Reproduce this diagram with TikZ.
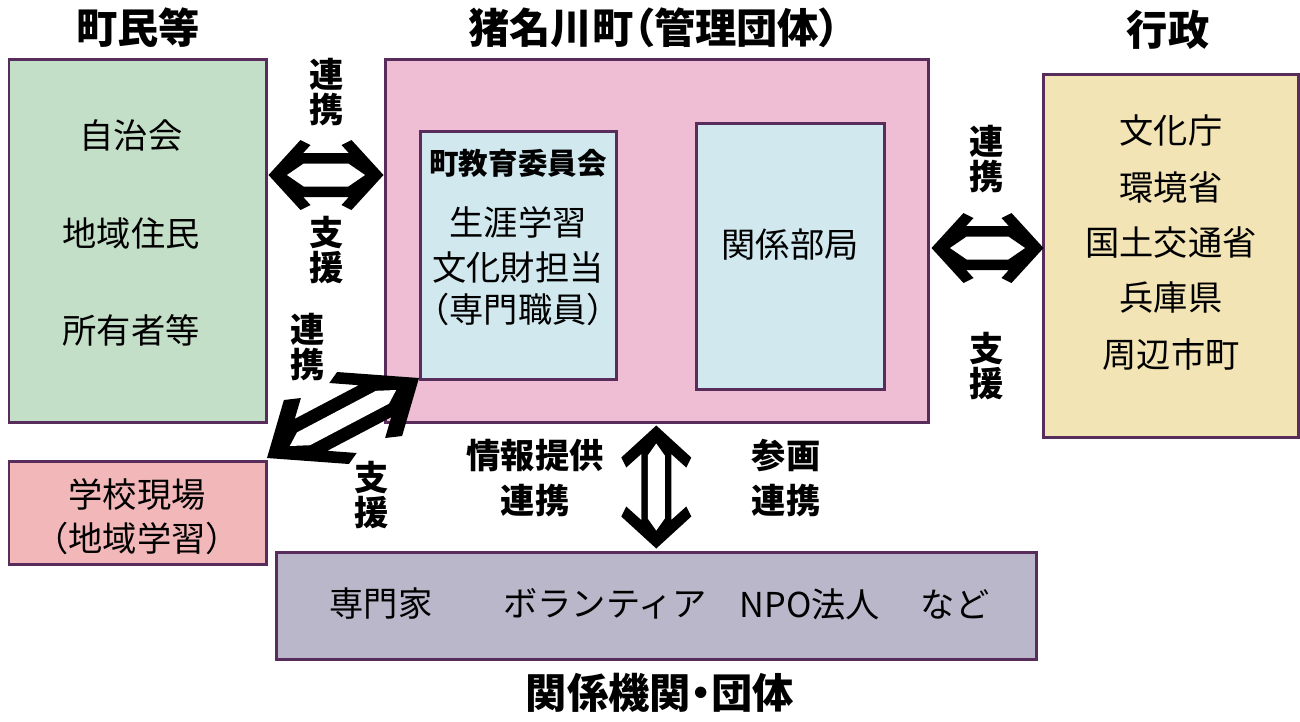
\documentclass[tikz,border=0pt]{standalone}
\usepackage{fontspec}
\setmainfont{Noto Sans CJK JP}
\usetikzlibrary{fit,calc}
\definecolor{bordc}{RGB}{88,45,92}
\definecolor{greenf}{RGB}{196,223,200}
\definecolor{pinkf}{RGB}{239,190,213}
\definecolor{bluef}{RGB}{208,232,238}
\definecolor{yellowf}{RGB}{243,228,182}
\definecolor{schoolf}{RGB}{242,183,184}
\definecolor{grayf}{RGB}{185,183,201}
\begin{document}
\begin{tikzpicture}[x=0.02cm,y=-0.02cm,
  box/.style={draw=bordc, line width=0.06cm, inner sep=0pt},
  body/.style={font=\fontsize{19.5}{23}\selectfont, inner sep=0pt, align=center},
  ttl/.style={font=\fontsize{23.5}{28}\selectfont\bfseries\addfontfeatures{RawFeature=+palt}, inner sep=0pt},
  lab/.style={font=\fontsize{19.5}{20}\selectfont\bfseries, inner sep=0pt, align=center},
  sub/.style={font=\fontsize{16.8}{20}\selectfont\bfseries, inner sep=0pt},
  arrout/.style={fill=black},
  arrin/.style={fill=white}]
\useasboundingbox (0,0) rectangle (1300,721);

% boxes
\node[box, fill=greenf, fit={(9,59) (266,422)}] (tomin) {};
\node[box, fill=pinkf, fit={(385,59) (928,422)}] (main) {};
\node[box, fill=bluef, fit={(420,131) (616,379)}] (kyoiku) {};
\node[box, fill=bluef, fit={(696,123) (884,389)}] (bukyoku) {};
\node[box, fill=yellowf, fit={(1043,74) (1298,437)}] (gyosei) {};
\node[box, fill=schoolf, fit={(9,461) (266,564)}] (school) {};
\node[box, fill=grayf, fit={(276,552) (1036,659)}] (kankei) {};

% titles
\node[ttl] (t1) at (138,28) {町民等};
\node[ttl] (t2) at (654,28) {猪名川町（管理団体）};
\node[ttl] (t3) at (1168,30) {行政};
\node[ttl] (t4) at (660,693) {関係機関・団体};

% body texts
\node[body] (b1) at (131,135) {自治会};
\node[body] (b2) at (131,233) {地域住民};
\node[body] (b3) at (131,330) {所有者等};

\node[sub] (k0) at (518,163) {町教育委員会};
\node[body] (k1) at (518,222) {生涯学習};
\node[body] (k2) at (518,267) {文化財担当};
\node[body] (k3) at (518,309) {（専門職員）};

\node[body] (bk) at (790,245) {関係部局};

\node[body] (g1) at (1171,130) {文化庁};
\node[body] (g2) at (1171,187) {環境省};
\node[body] (g3) at (1171,243) {国土交通省};
\node[body] (g4) at (1171,298) {兵庫県};
\node[body] (g5) at (1171,354) {周辺市町};

\node[body] (s1) at (137,494) {学校現場};
\node[body] (s2) at (137,538) {（地域学習）};

\node[body] (e1) at (381,604) {専門家};
\node[body] (e2) at (605,604) {ボランティア};
\node[body] (e3) at (810,604) {NPO法人};
\node[body] (e4) at (955,604) {など};

% labels
\node[lab] (l1) at (327,92) {連\\携};
\node[lab] (l2) at (327,250) {支\\援};
\node[lab] (l3) at (987,159) {連\\携};
\node[lab] (l4) at (987,366) {支\\援};
\node[lab] (l5) at (308,347) {連\\携};
\node[lab] (l6) at (372,495) {支\\援};
\node[lab, font=\fontsize{19.5}{25.6}\selectfont\bfseries] (l7) at (535,478) {情報提供\\連携};
\node[lab, font=\fontsize{19.5}{25.6}\selectfont\bfseries] (l8) at (786,478) {参画\\連携};

% hollow double arrows (町民等 <-> 猪名川町)
\begin{scope}[shift={($(tomin.east)!0.5!(main.west)+(0.5,-65.5)$)}]
  \path[arrout] (-57.5,0) -- (-25.5,-35) -- (-15.5,-30) -- (-22.8,-22) -- (22.8,-22) -- (15.5,-30) -- (25.5,-35) -- (57.5,0) -- (25.5,35) -- (15.5,30) -- (22.8,22) -- (-22.8,22) -- (-15.5,30) -- (-25.5,35) -- cycle;
  \path[arrin] (-39,0) -- (-22.2,-11.5) -- (22.2,-11.5) -- (39,0) -- (22.2,11.5) -- (-22.2,11.5) -- cycle;
\end{scope}
% 猪名川町 <-> 行政
\begin{scope}[shift={(987.5,248)}]
  \path[arrout] (-56,0) -- (-24,-35) -- (-14,-30) -- (-21.3,-22) -- (21.3,-22) -- (14,-30) -- (24,-35) -- (56,0) -- (24,35) -- (14,30) -- (21.3,22) -- (-21.3,22) -- (-14,30) -- (-24,35) -- cycle;
  \path[arrin] (-37.5,0) -- (-20.7,-11.5) -- (20.7,-11.5) -- (37.5,0) -- (20.7,11.5) -- (-20.7,11.5) -- cycle;
\end{scope}
% 猪名川町 <-> 関係機関
\begin{scope}[shift={($(main.south)!0.5!(kankei.north)$)}, rotate=90]
  \path[arrout] (-61.5,0) -- (-29.5,-35) -- (-19.5,-30) -- (-33,-15) -- (33,-15) -- (19.5,-30) -- (29.5,-35) -- (61.5,0) -- (29.5,35) -- (19.5,30) -- (33,15) -- (-33,15) -- (-19.5,30) -- (-29.5,35) -- cycle;
  \path[arrin] (-43.5,0) -- (-31.5,-8.5) -- (31.5,-8.5) -- (43.5,0) -- (31.5,8.5) -- (-31.5,8.5) -- cycle;
\end{scope}
% 学校現場 <-> 町教育委員会 (skewed heads)
\begin{scope}[shift={($(school.north east)!0.5!(kyoiku.south west)+(0,-2)$)}]
  \path[arrout] (-76,40) -- (-59.1,-18) -- (-42.1,-20) -- (-48.2,0.8) -- (15.7,-32.8) -- (-13.7,-35) -- (-5.9,-46) -- (76,-40) -- (59.1,18) -- (42.1,20) -- (48.2,-0.8) -- (-15.7,32.8) -- (13.7,35) -- (5.9,46) -- cycle;
  \path[arrin] (-53.2,28) -- (-46,14.4) -- (33,-27.2) -- (53.2,-28) -- (46,-14.4) -- (-33,27.2) -- cycle;
\end{scope}
\end{tikzpicture}
\end{document}
